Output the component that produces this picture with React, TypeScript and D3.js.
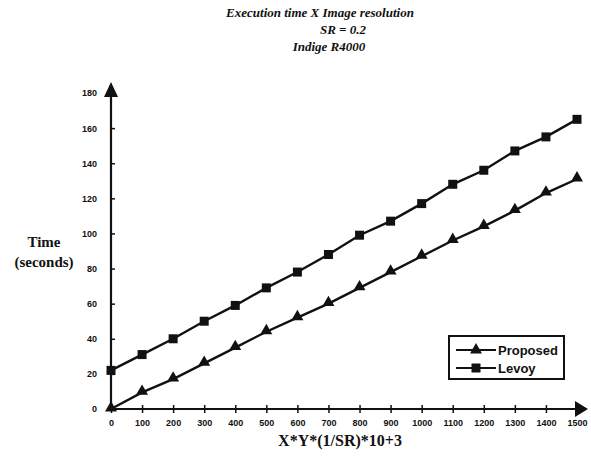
import React, { useEffect, useRef } from "react";
import * as d3 from "d3";

const categories = ["0", "100", "200", "300", "400", "500", "600", "700", "800", "900", "1000", "1100", "1200", "1300", "1400", "1500"];
const proposed = [0, 9.5, 17, 26, 35, 44, 52, 60, 69, 78, 87, 96, 104, 113, 123, 131];
const levoy = [22, 31, 40, 50, 59, 69, 78, 88, 99, 107, 117, 128, 136, 147, 155, 165];
const yTicks = [0, 20, 40, 60, 80, 100, 120, 140, 160, 180];
const titleLines = ["Execution time  X  Image resolution", "SR = 0.2", "Indige R4000"];

const App = () => {
  const svgRef = useRef<SVGSVGElement>(null);

  useEffect(() => {
    const width = 591;
    const height = 462;
    const ink = "#111";
    const serif = "'Liberation Serif', serif";
    const sans = "'Liberation Sans', Arial, sans-serif";

    const svg = d3.select(svgRef.current);
    svg.selectAll("*").remove();
    svg.attr("width", width).attr("height", height);

    svg.append("rect").attr("width", width).attr("height", height).attr("fill", "#fff");

    const x = d3.scalePoint<string>().domain(categories).range([111, 577]);
    const y = d3.scaleLinear().domain([0, 180]).range([409, 93]);

    // title
    const titleX = [320, 343, 329];
    const titleY = [17, 34, 51];
    titleLines.forEach((t, i) => {
      svg.append("text")
        .attr("x", titleX[i])
        .attr("y", titleY[i])
        .attr("text-anchor", "middle")
        .style("font-family", serif)
        .style("font-weight", "bold")
        .style("font-style", "italic")
        .style("font-size", "13px")
        .attr("fill", ink)
        .text(t);
    });

    // x axis
    const xAxis = svg.append("g")
      .attr("transform", `translate(0, ${y(0)})`)
      .call(d3.axisBottom(x).tickSize(4).tickSizeOuter(0));
    xAxis.select(".domain").remove();
    xAxis.selectAll(".tick line").attr("y1", -4).attr("stroke", ink).attr("stroke-width", 1.5);
    xAxis.selectAll(".tick text")
      .attr("y", 11)
      .attr("fill", ink)
      .style("font-family", sans)
      .style("font-weight", "bold")
      .style("font-size", "9px");
    xAxis.append("line").attr("x1", 111).attr("x2", 578).attr("stroke", ink).attr("stroke-width", 2.2);
    xAxis.append("path").attr("d", "M575,-8 L588,0 L575,8 Z").attr("fill", ink);

    // y axis
    const yAxis = svg.append("g")
      .attr("transform", `translate(${x("0")}, 0)`)
      .call(d3.axisLeft(y).tickValues(yTicks).tickSize(4).tickSizeOuter(0));
    yAxis.select(".domain").remove();
    yAxis.selectAll(".tick line").attr("x2", 4).attr("stroke", ink).attr("stroke-width", 1.5);
    yAxis.selectAll(".tick text")
      .attr("x", -14)
      .attr("fill", ink)
      .style("font-family", sans)
      .style("font-weight", "bold")
      .style("font-size", "9px");
    yAxis.append("line").attr("y1", y(0)).attr("y2", 92).attr("stroke", ink).attr("stroke-width", 2.2);
    yAxis.append("path").attr("d", "M-7,97 L0,82 L7,97 Z").attr("fill", ink);

    // axis titles
    svg.append("text").attr("x", 44).attr("y", 247).attr("text-anchor", "middle")
      .style("font-family", serif).style("font-weight", "bold").style("font-size", "15px")
      .attr("fill", ink).text("Time");
    svg.append("text").attr("x", 44).attr("y", 267).attr("text-anchor", "middle")
      .style("font-family", serif).style("font-weight", "bold").style("font-size", "15px")
      .attr("fill", ink).text("(seconds)");
    svg.append("text").attr("x", 340).attr("y", 446).attr("text-anchor", "middle")
      .style("font-family", serif).style("font-weight", "bold").style("font-size", "16px")
      .attr("fill", ink).text("X*Y*(1/SR)*10+3");

    // lines
    const line = d3.line<number>()
      .x((d, i) => x(categories[i]) as number)
      .y(d => y(d));

    svg.append("path").datum(levoy).attr("d", line).attr("fill", "none")
      .attr("stroke", ink).attr("stroke-width", 2.4);
    svg.append("path").datum(proposed).attr("d", line).attr("fill", "none")
      .attr("stroke", ink).attr("stroke-width", 2.4);

    const square = d3.symbol().type(d3.symbolSquare).size(81);
    const triangle = d3.symbol().type(d3.symbolTriangle).size(62);

    svg.append("g").selectAll("path").data(levoy).enter().append("path")
      .attr("d", square)
      .attr("transform", (d, i) => `translate(${x(categories[i])}, ${y(d)})`)
      .attr("fill", ink);
    svg.append("g").selectAll("path").data(proposed).enter().append("path")
      .attr("d", triangle)
      .attr("transform", (d, i) => `translate(${x(categories[i])}, ${y(d) - 1})`)
      .attr("fill", ink);

    // legend
    const legend = svg.append("g").attr("transform", "translate(449, 336)");
    legend.append("rect").attr("width", 115).attr("height", 43)
      .attr("fill", "#fff").attr("stroke", ink).attr("stroke-width", 2);
    const entries = [
      { name: "Proposed", shape: triangle, dy: 14 },
      { name: "Levoy", shape: square, dy: 32 },
    ];
    entries.forEach(e => {
      legend.append("line").attr("x1", 7).attr("x2", 47).attr("y1", e.dy).attr("y2", e.dy)
        .attr("stroke", ink).attr("stroke-width", 2);
      legend.append("path").attr("d", e.shape).attr("transform", `translate(27, ${e.dy})`).attr("fill", ink);
      legend.append("text").attr("x", 49).attr("y", e.dy + 4.5)
        .style("font-family", sans)
        .style("font-weight", "bold").style("font-size", "13px")
        .attr("fill", ink).text(e.name);
    });
  }, []);

  return <svg ref={svgRef} style={{ position: "absolute", left: 0, top: 0 }}></svg>;
};

export default App;
